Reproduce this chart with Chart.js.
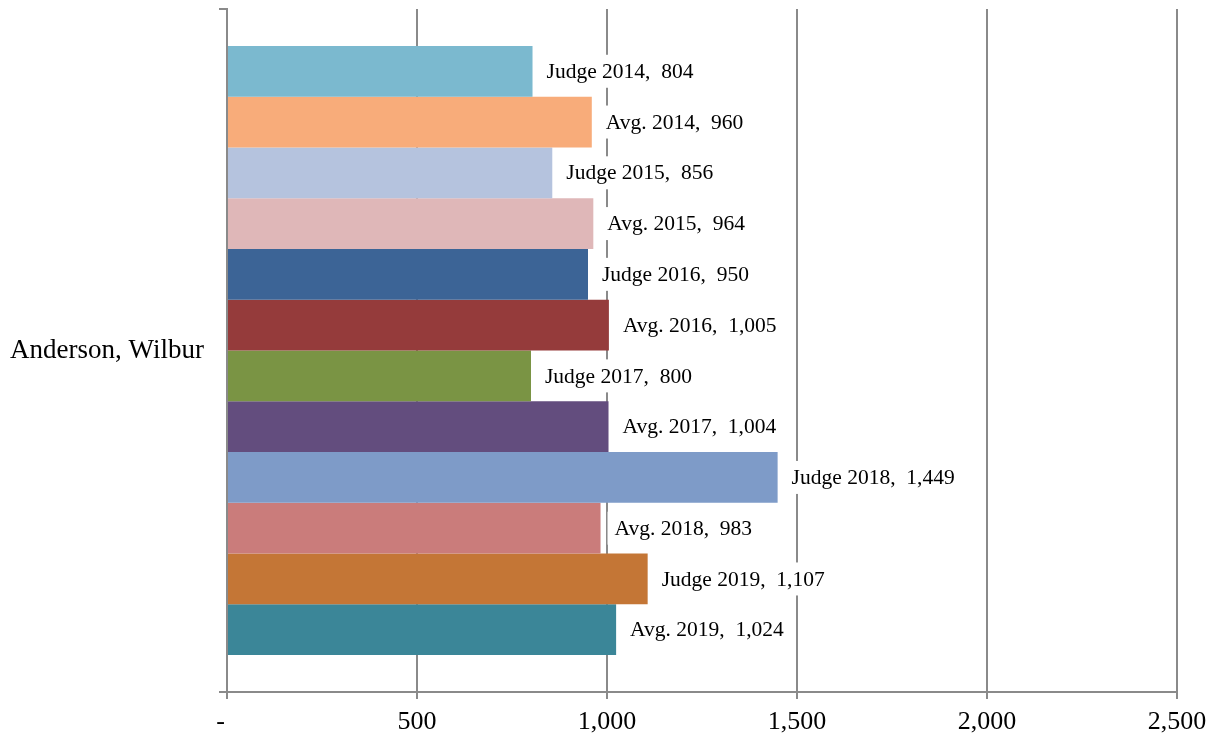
<!DOCTYPE html>
<html>
<head>
<meta charset="utf-8">
<script src="https://cdn.jsdelivr.net/npm/chart.js@4"></script>
<style>
  body { margin: 0; background: #fff; }
  #wrap { width: 1217px; height: 736px; }
</style>
</head>
<body>
<div id="wrap"><canvas id="myChart"></canvas></div>
<script>
// judge vs. average, one bar per year/series
var judge = ['Anderson, Wilbur'];
var seriesNames = ['Judge 2014', 'Avg. 2014', 'Judge 2015', 'Avg. 2015', 'Judge 2016', 'Avg. 2016',
                   'Judge 2017', 'Avg. 2017', 'Judge 2018', 'Avg. 2018', 'Judge 2019', 'Avg. 2019'];
var seriesValues = [804, 960, 856, 964, 950, 1005, 800, 1004, 1449, 983, 1107, 1024];
var seriesColors = ['#7BB9CF', '#F8AC7A', '#B5C3DE', '#DFB7B8', '#3C6496', '#953B3B',
                    '#7A9444', '#634D7E', '#7E9BC8', '#CA7C7B', '#C47636', '#3B8698'];
var xTicks = [0, 500, 1000, 1500, 2000, 2500];

var serif = "'Liberation Serif', 'Times New Roman', serif";
var gridGray = '#8a8a8a';

function fmt(v) {
    return v.toLocaleString('en-US');
}

var datasets = [];
for (var i = 0; i < seriesNames.length; i++) {
    datasets.push({
        label: seriesNames[i],
        data: [seriesValues[i]],
        backgroundColor: seriesColors[i],
        borderWidth: 0,
        barPercentage: 1,
        categoryPercentage: 0.892
    });
}

// value labels on a white box to the right of each bar
var barLabels = {
    id: 'barLabels',
    afterDatasetsDraw: function(chart) {
        var ctx = chart.ctx;
        ctx.save();
        ctx.font = '21.5px ' + serif;
        ctx.textBaseline = 'middle';
        chart.data.datasets.forEach(function(ds, i) {
            var bar = chart.getDatasetMeta(i).data[0];
            var text = ds.label + ',  ' + fmt(ds.data[0]);
            var w = ctx.measureText(text).width;
            ctx.fillStyle = '#fff';
            ctx.fillRect(bar.x + 7, bar.y - 16.5, w + 14, 33);
            ctx.fillStyle = '#000';
            ctx.fillText(text, bar.x + 14, bar.y + 1);
        });
        ctx.restore();
    }
};

const ctx1 = document.getElementById('myChart');
new Chart(ctx1, {
    type: 'bar',
    data: {
        labels: judge,
        datasets: datasets
    },
    options: {
        indexAxis: 'y',
        responsive: true,
        maintainAspectRatio: false,
        animation: false,
        layout: {
            padding: { top: 9, right: 40, left: 0, bottom: 0 }
        },
        plugins: {
            legend: { display: false },
            tooltip: { enabled: false }
        },
        scales: {
            x: {
                min: 0,
                max: 2500,
                afterBuildTicks: function(scale) {
                    scale.ticks = xTicks.map(function(v) { return { value: v }; });
                },
                ticks: {
                    color: '#000',
                    font: { family: serif, size: 26 },
                    padding: 8,
                    maxRotation: 0,
                    callback: function(v) {
                        return v === 0 ? '-  ' : fmt(v);
                    }
                },
                grid: {
                    color: gridGray,
                    lineWidth: 2,
                    tickLength: 7
                },
                border: { color: gridGray, width: 2 },
                afterFit: function(scale) {
                    scale.height = 44;
                    scale.paddingLeft = 0;
                    scale.paddingRight = 0;
                }
            },
            y: {
                ticks: {
                    color: '#000',
                    font: { family: serif, size: 27 },
                    padding: 15
                },
                grid: {
                    drawOnChartArea: false,
                    color: gridGray,
                    lineWidth: 2,
                    tickLength: 8,
                    offset: true
                },
                border: { color: gridGray, width: 2 },
                afterFit: function(scale) {
                    scale.width = 227;
                    scale.paddingTop = 0;
                    scale.paddingBottom = 0;
                }
            }
        }
    },
    plugins: [barLabels]
});
</script>
</body>
</html>
